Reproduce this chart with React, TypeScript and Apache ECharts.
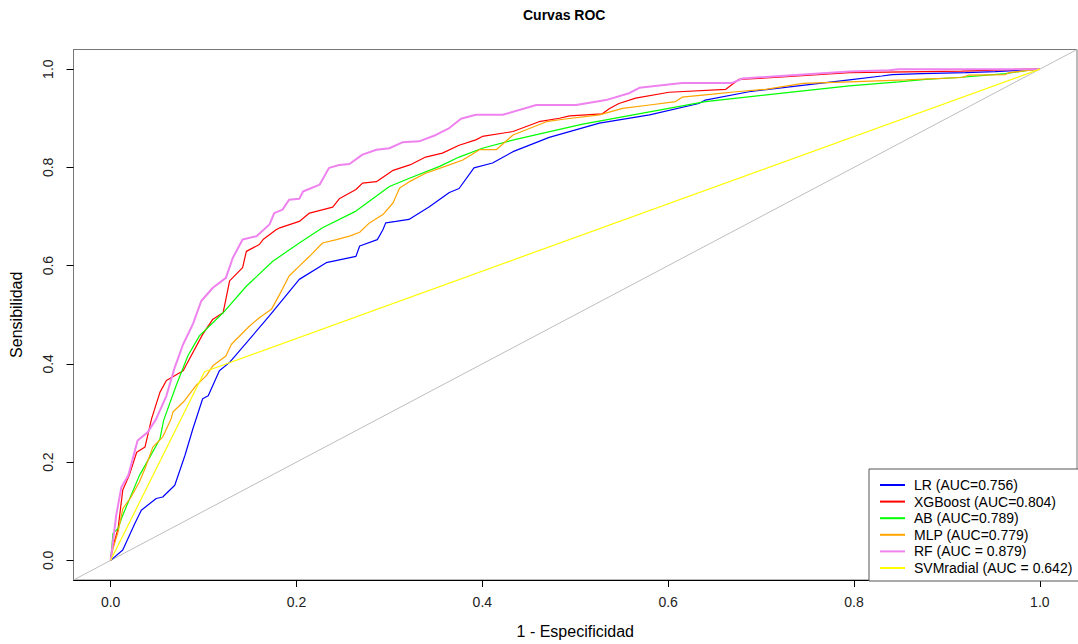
import React, { useEffect, useRef } from "react";
import * as echarts from "echarts";

const tickValues = [0, 0.2, 0.4, 0.6, 0.8, 1.0];
const tickLabels = ["0.0", "0.2", "0.4", "0.6", "0.8", "1.0"];

const modelNames = [
  "LR (AUC=0.756)",
  "XGBoost (AUC=0.804)",
  "AB (AUC=0.789)",
  "MLP (AUC=0.779)",
  "RF (AUC = 0.879)",
  "SVMradial (AUC = 0.642)",
];
const modelColors = ["#0000FF", "#FF0000", "#00FF00", "#FFA500", "#EE82EE", "#FFFF00"];

// [1 - specificity, sensitivity]
const lrRoc: number[][] = [
  [0, 0], [0.013, 0.021], [0.026, 0.075], [0.033, 0.102], [0.049, 0.126], [0.056, 0.129],
  [0.069, 0.153], [0.08, 0.214], [0.0885, 0.268], [0.099, 0.329], [0.105, 0.335], [0.117, 0.386],
  [0.128, 0.403], [0.171, 0.498], [0.203, 0.572], [0.232, 0.606], [0.264, 0.619], [0.268, 0.64],
  [0.287, 0.653], [0.293, 0.673], [0.296, 0.687], [0.307, 0.69], [0.321, 0.694], [0.343, 0.72],
  [0.3645, 0.749], [0.375, 0.757], [0.391, 0.799], [0.411, 0.809], [0.433, 0.832], [0.472, 0.861],
  [0.526, 0.89], [0.58, 0.907], [0.633, 0.93], [0.64, 0.937], [0.687, 0.954], [0.795, 0.978],
  [0.83, 0.986], [0.841, 0.989], [0.873, 0.991], [0.92, 0.993], [0.952, 0.995], [1, 1],
];
const xgbRoc: number[][] = [
  [0, 0], [0.001, 0.018], [0.008, 0.065], [0.013, 0.143], [0.02, 0.173], [0.028, 0.22],
  [0.037, 0.231], [0.044, 0.288], [0.053, 0.342], [0.06, 0.366], [0.078, 0.386], [0.099, 0.46],
  [0.11, 0.491], [0.121, 0.504], [0.128, 0.569], [0.142, 0.596], [0.146, 0.629], [0.16, 0.643],
  [0.164, 0.653], [0.178, 0.673], [0.182, 0.677], [0.203, 0.69], [0.214, 0.707], [0.239, 0.719],
  [0.246, 0.736], [0.264, 0.755], [0.271, 0.768], [0.286, 0.771], [0.304, 0.794], [0.322, 0.805],
  [0.339, 0.821], [0.357, 0.829], [0.375, 0.845], [0.393, 0.856], [0.4, 0.863], [0.433, 0.873],
  [0.461, 0.893], [0.483, 0.9], [0.494, 0.905], [0.529, 0.909], [0.537, 0.92], [0.547, 0.93],
  [0.565, 0.941], [0.601, 0.953], [0.662, 0.959], [0.676, 0.979], [0.723, 0.984], [0.795, 0.993],
  [0.916, 0.996], [0.985, 1.0], [1, 1],
];
const abRoc: number[][] = [
  [0, 0], [0.0025, 0.055], [0.008, 0.065], [0.013, 0.092], [0.031, 0.173], [0.04, 0.203],
  [0.053, 0.247], [0.057, 0.285], [0.0705, 0.356], [0.083, 0.416], [0.0955, 0.457], [0.121, 0.504],
  [0.146, 0.558], [0.1745, 0.609], [0.203, 0.646], [0.228, 0.677], [0.264, 0.711], [0.3, 0.761],
  [0.3215, 0.778], [0.354, 0.802], [0.375, 0.821], [0.4, 0.839], [0.436, 0.857], [0.508, 0.888],
  [0.58, 0.913], [0.64, 0.934], [0.723, 0.951], [0.795, 0.966], [0.848, 0.974], [0.877, 0.979],
  [0.913, 0.983], [0.963, 0.991], [0.985, 0.997], [1, 1],
];
const mlpRoc: number[][] = [
  [0, 0], [0.0025, 0.024], [0.008, 0.058], [0.013, 0.105], [0.022, 0.129], [0.031, 0.16],
  [0.037, 0.187], [0.0455, 0.231], [0.056, 0.251], [0.065, 0.288], [0.067, 0.302], [0.0795, 0.325],
  [0.092, 0.356], [0.103, 0.376], [0.11, 0.396], [0.124, 0.416], [0.13, 0.44], [0.1495, 0.477],
  [0.16, 0.494], [0.173, 0.511], [0.182, 0.542], [0.192, 0.579], [0.203, 0.599], [0.214, 0.619],
  [0.228, 0.646], [0.243, 0.653], [0.257, 0.66], [0.268, 0.668], [0.2785, 0.687], [0.293, 0.704],
  [0.304, 0.728], [0.311, 0.758], [0.3215, 0.771], [0.339, 0.788], [0.3645, 0.805], [0.379, 0.815],
  [0.397, 0.836], [0.415, 0.836], [0.433, 0.866], [0.469, 0.893], [0.487, 0.898], [0.526, 0.907],
  [0.551, 0.92], [0.58, 0.927], [0.608, 0.934], [0.615, 0.943], [0.648, 0.949], [0.673, 0.954],
  [0.705, 0.959], [0.745, 0.971], [0.795, 0.974], [0.856, 0.978], [0.916, 0.983], [0.924, 0.988],
  [0.963, 0.989], [0.967, 0.993], [0.985, 0.997], [1, 1],
];
const rfRoc: number[][] = [
  [0, 0], [0.006, 0.092], [0.0115, 0.149], [0.019, 0.173], [0.029, 0.244], [0.04, 0.261],
  [0.049, 0.288], [0.06, 0.335], [0.069, 0.393], [0.078, 0.44], [0.0885, 0.481], [0.0975, 0.528],
  [0.11, 0.555], [0.124, 0.575], [0.1315, 0.616], [0.142, 0.653], [0.157, 0.66], [0.171, 0.684],
  [0.176, 0.707], [0.185, 0.714], [0.192, 0.734], [0.203, 0.736], [0.207, 0.751], [0.225, 0.765],
  [0.235, 0.799], [0.246, 0.805], [0.257, 0.807], [0.271, 0.826], [0.286, 0.836], [0.3, 0.839],
  [0.314, 0.851], [0.332, 0.853], [0.35, 0.866], [0.3645, 0.88], [0.377, 0.899], [0.393, 0.907],
  [0.422, 0.907], [0.458, 0.927], [0.501, 0.927], [0.533, 0.937], [0.558, 0.951], [0.569, 0.962],
  [0.615, 0.972], [0.669, 0.972], [0.68, 0.981], [0.795, 0.995], [0.838, 0.998], [0.848, 1.0],
  [1, 1],
];
const svmRoc: number[][] = [
  [0, 0], [0.101, 0.384], [1, 1],
];
const chanceLine: number[][] = [
  [-0.04, -0.04], [1.04, 1.04],
];

const modelData = [lrRoc, xgbRoc, abRoc, mlpRoc, rfRoc, svmRoc];
const modelWidths = [1.2, 1.2, 1.2, 1.2, 2, 1.2];

const FONT = "'Liberation Sans', Arial, sans-serif";

export default function App() {
  const ref = useRef<HTMLDivElement>(null);

  useEffect(() => {
    document.body.style.margin = "0";
    const chart = echarts.init(ref.current!, null, { renderer: "svg" });

    const series: any[] = [
      {
        name: "chance",
        type: "line",
        data: chanceLine,
        showSymbol: false,
        symbol: "none",
        silent: true,
        lineStyle: { color: "#BEBEBE", width: 1 },
        z: 1,
      },
      ...modelNames.map((name, i) => ({
        name,
        type: "line",
        data: modelData[i],
        showSymbol: false,
        symbol: "none",
        silent: true,
        itemStyle: { color: modelColors[i] },
        lineStyle: { color: modelColors[i], width: modelWidths[i] },
        z: 2 + i,
      })),
    ];

    chart.setOption({
      animation: false,
      textStyle: { fontFamily: FONT },
      title: {
        text: "Curvas ROC",
        left: 523,
        top: 8,
        padding: 0,
        textStyle: { fontFamily: FONT, fontSize: 14, fontWeight: "bold", color: "#000" },
      },
      grid: {
        left: 73.5,
        right: 1,
        top: 49.5,
        bottom: 62,
        show: true,
        borderColor: "#777",
        borderWidth: 1,
        backgroundColor: "transparent",
      },
      legend: {
        data: modelNames,
        orient: "vertical",
        left: 869,
        top: 469,
        padding: [9, 60, 6, 11],
        backgroundColor: "#fff",
        borderColor: "#555",
        borderWidth: 1,
        borderRadius: 0,
        itemWidth: 25,
        itemHeight: 2,
        itemGap: 2.6,
        icon: "rect",
        selectedMode: false,
        textStyle: { fontFamily: FONT, fontSize: 14, color: "#000", lineHeight: 14, padding: [0, 0, 0, 4] },
        z: 10,
      },
      xAxis: {
        type: "value",
        min: -0.04,
        max: 1.04,
        name: "1 - Especificidad",
        nameLocation: "middle",
        nameGap: 43,
        nameTextStyle: { fontFamily: FONT, fontSize: 16, color: "#000" },
        splitLine: { show: false },
        axisLine: { show: true, onZero: false, lineStyle: { color: "#000", width: 1 } },
        axisTick: { show: true, customValues: tickValues, length: 7, lineStyle: { color: "#000" } },
        axisLabel: {
          customValues: tickValues,
          formatter: (v: number) => tickLabels[tickValues.findIndex((t) => Math.abs(t - v) < 1e-9)] ?? "",
          fontFamily: FONT,
          fontSize: 14,
          color: "#222",
          margin: 15,
        },
      },
      yAxis: {
        type: "value",
        min: -0.04,
        max: 1.04,
        name: "Sensibilidad",
        nameLocation: "middle",
        nameGap: 49,
        nameTextStyle: { fontFamily: FONT, fontSize: 16, color: "#000" },
        splitLine: { show: false },
        axisLine: { show: true, onZero: false, lineStyle: { color: "#777", width: 1 } },
        axisTick: { show: true, customValues: tickValues, length: 7, lineStyle: { color: "#000" } },
        axisLabel: {
          customValues: tickValues,
          formatter: (v: number) => tickLabels[tickValues.findIndex((t) => Math.abs(t - v) < 1e-9)] ?? "",
          fontFamily: FONT,
          fontSize: 14,
          color: "#222",
          rotate: 90,
          margin: 19,
        },
      },
      series,
    });

    return () => chart.dispose();
  }, []);

  return <div ref={ref} style={{ width: 1078, height: 644, background: "#fff" }} />;
}
